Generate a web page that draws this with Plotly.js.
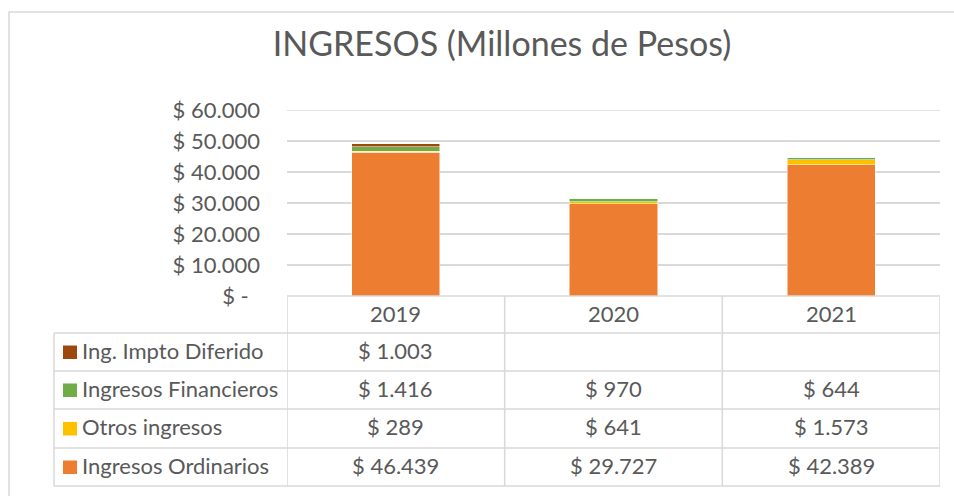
<!DOCTYPE html>
<html>
<head>
<meta charset="utf-8">
<script src="https://cdn.plot.ly/plotly-3.0.1.min.js"></script>
<style>html,body{margin:0;padding:0;background:#fff;}#chart{width:954px;height:496px;}</style>
</head>
<body>
<div id="chart"></div>
<script>
// ---- data ----
const years = ['2019', '2020', '2021'];
const seriesNames = ['Ingresos Ordinarios', 'Otros ingresos', 'Ingresos Financieros', 'Ing. Impto Diferido'];
const ingresosOrdinarios = [46439, 29727, 42389];
const otrosIngresos = [289, 641, 1573];
const ingresosFinancieros = [1416, 970, 644];
const ingImptoDiferido = [1003, null, null];
const seriesColors = ['#ED7D31', '#FFC000', '#70AD47', '#9E480E'];
const yTickVals = [0, 10000, 20000, 30000, 40000, 50000, 60000];

const seriesValues = [ingresosOrdinarios, otrosIngresos, ingresosFinancieros, ingImptoDiferido];

function fmt(v) {
  if (v === null || v === undefined) return '';
  if (v === 0) return '$ -\u00a0\u00a0';
  return '$ ' + String(v).replace(/\B(?=(\d{3})+(?!\d))/g, '.');
}

// pixel helpers (plot area: x 287..940, y 110..296)
const L = 287, R = 940, T = 110, B = 296, W = 954, H = 496;
const px = p => (p - L) / (R - L);
const py = p => (B - p) / (B - T);

const txtColor = '#595959';
const gridColor = '#D9D9D9';
const font = 'Lato, "Open Sans", sans-serif';
const fs = 22;

const traces = seriesNames.map((n, i) => ({
  type: 'bar', name: n, x: years, y: seriesValues[i],
  marker: {color: seriesColors[i], line: {color: '#ffffff', width: 0.5}},
  width: 0.405, hoverinfo: 'none'
}));

const shapes = [];
const annotations = [];
const line = (x0, y0, x1, y1, xref) => shapes.push({
  type: 'line', xref: xref || 'paper', yref: 'paper', x0, y0, x1, y1,
  line: {color: gridColor, width: 1.5}, layer: 'above'
});

// outer frame
shapes.push({type: 'rect', xref: 'paper', yref: 'paper', x0: px(9), y0: py(12), x1: px(962), y1: py(504),
  line: {color: gridColor, width: 1.5}, layer: 'below'});

// top gridline (not drawn at the range edge)
shapes.push({type: 'line', xref: 'paper', yref: 'y', x0: 0, x1: 1, y0: yTickVals[yTickVals.length - 1],
  y1: yTickVals[yTickVals.length - 1], line: {color: gridColor, width: 1.5}, layer: 'below'});

// table lines
const rowLines = [333, 371, 409, 448, 486];
line(px(L), py(296), px(R), py(296));
rowLines.forEach(y => line(px(54), py(y), px(R), py(y)));
line(px(54), py(333), px(54), py(486));
[-0.5, 0.5, 1.5, 2.5].forEach(x => line(x, py(296), x, py(486), 'x'));

// header labels
years.forEach((y, i) => annotations.push({
  xref: 'x', yref: 'paper', x: i, y: py(313), text: y, showarrow: false,
  font: {family: font, size: fs, color: txtColor}, xanchor: 'center', yanchor: 'middle'
}));

// table rows (top to bottom: reverse stacking order)
const rowCenters = [352, 390, 428.5, 467];
const order = [3, 2, 1, 0];
order.forEach((si, r) => {
  const yc = rowCenters[r];
  shapes.push({type: 'rect', xref: 'paper', yref: 'paper',
    x0: px(63), x1: px(77), y0: py(yc - 6.5), y1: py(yc + 7),
    fillcolor: seriesColors[si], line: {width: 0}});
  annotations.push({xref: 'paper', yref: 'paper', x: px(80), y: py(yc - 2), text: seriesNames[si],
    showarrow: false, xanchor: 'left', yanchor: 'middle',
    font: {family: font, size: fs, color: txtColor}});
  seriesValues[si].forEach((v, ci) => {
    if (v === null) return;
    annotations.push({xref: 'x', yref: 'paper', x: ci, y: py(yc - 2), text: fmt(v),
      showarrow: false, xanchor: 'center', yanchor: 'middle',
      font: {family: font, size: fs, color: txtColor}});
  });
});

const layout = {
  width: W, height: H,
  margin: {l: L, r: W - R, t: T, b: H - B, pad: 0},
  paper_bgcolor: '#ffffff', plot_bgcolor: '#ffffff',
  barmode: 'stack', showlegend: false,
  title: {text: 'INGRESOS (Millones de Pesos)', x: 502 / W, xanchor: 'center',
    y: 1 - 44 / H, yanchor: 'middle', yref: 'container',
    font: {family: font, size: 34, color: txtColor}},
  xaxis: {type: 'category', range: [-0.5, 2.5], showticklabels: false, showgrid: false, zeroline: false,
    showline: false, ticks: '', fixedrange: true},
  yaxis: {range: [0, 60000], tickvals: yTickVals, ticktext: yTickVals.map(fmt),
    showgrid: true, gridcolor: gridColor, gridwidth: 1.5, zeroline: false, showline: false,
    ticks: '', ticklabelstandoff: 26,
    tickfont: {family: font, size: fs, color: txtColor}, fixedrange: true},
  shapes, annotations
};

Plotly.newPlot('chart', traces, layout, {displayModeBar: false, staticPlot: true});
</script>
</body>
</html>
